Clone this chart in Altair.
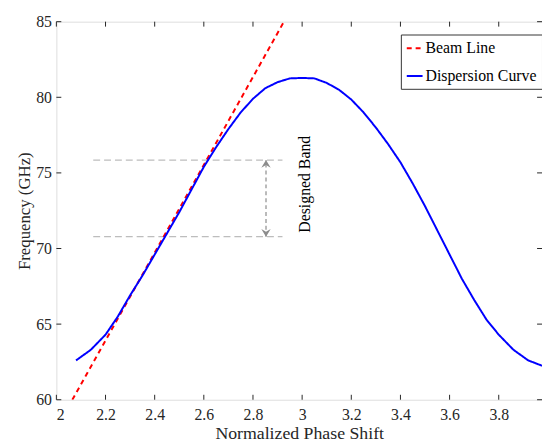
import altair as alt
import pandas as pd

# Dispersion curve
disp_x = [2.08, 2.14, 2.2, 2.25, 2.3, 2.35, 2.4, 2.45, 2.5, 2.55, 2.6, 2.65, 2.7, 2.75, 2.8, 2.85, 2.9, 2.95, 3.0,
          3.05, 3.1, 3.15, 3.2, 3.25, 3.3, 3.35, 3.4, 3.45, 3.5, 3.55, 3.6, 3.65, 3.7, 3.75, 3.8, 3.86, 3.92, 3.976]
disp_y = [62.6, 63.3, 64.3, 65.5, 66.9, 68.2, 69.6, 71.0, 72.4, 73.9, 75.4, 76.7, 77.9, 79.0, 79.9, 80.6, 81.0, 81.25, 81.28,
          81.25, 80.95, 80.5, 79.85, 79.0, 78.0, 76.9, 75.7, 74.3, 72.8, 71.2, 69.6, 68.0, 66.6, 65.3, 64.3, 63.3, 62.6, 62.25]

# Beam line
beam_x = [2.065, 2.926]
beam_y = [60.0, 85.0]

# Designed band
band_lo = 70.78
band_hi = 75.85
band_x = [2.15, 2.92]
arrow_x = 2.853
label_x = 3.012
label_y = 74.25

xticks = [2.0, 2.2, 2.4, 2.6, 2.8, 3.0, 3.2, 3.4, 3.6, 3.8]
yticks = [60, 65, 70, 75, 80, 85]

W, H = 492, 383
FONT = "Liberation Serif"
AX = "#262626"

xs = alt.Scale(domain=[2.0, 3.976], nice=False, zero=False)
ys = alt.Scale(domain=[60, 85], nice=False, zero=False)

curves = pd.DataFrame(
    {"x": beam_x + disp_x,
     "y": beam_y + disp_y,
     "s": ["Beam Line"] * len(beam_x) + ["Dispersion Curve"] * len(disp_x),
     "o": list(range(len(beam_x))) + list(range(len(disp_x)))}
)

xaxis = alt.Axis(values=xticks, format="~g", title="Normalized Phase Shift", titlePadding=2, labelPadding=7,
                 titleFontSize=18)
yaxis = alt.Axis(values=yticks, title="Frequency (GHz)", titlePadding=2, labelPadding=5, titleFontSize=17)


def X(f):
    return alt.X(f, scale=xs, axis=xaxis)


def Y(f):
    return alt.Y(f, scale=ys, axis=yaxis)


lines = alt.Chart(curves).mark_line(clip=True, strokeWidth=2).encode(
    x=X("x:Q"),
    y=Y("y:Q"),
    order="o:Q",
    color=alt.Color("s:N", scale=alt.Scale(domain=["Beam Line", "Dispersion Curve"], range=["#ff0000", "#0000ff"]),
                    legend=alt.Legend(title=None, orient="none", legendX=349, legendY=13,
                                      symbolType="stroke", symbolStrokeWidth=2, symbolSize=256,
                                      strokeColor="#333", fillColor="white", padding=5,
                                      rowPadding=11, labelOffset=2, offset=0)),
    strokeDash=alt.StrokeDash("s:N", scale=alt.Scale(domain=["Beam Line", "Dispersion Curve"], range=[[5, 4], [1, 0]]),
                              legend=None),
)

band_df = pd.DataFrame({"x1": [band_x[0], band_x[0]], "x2": [band_x[1], band_x[1]], "y": [band_lo, band_hi]})
band = alt.Chart(band_df).mark_rule(color="#bdbdbd", strokeDash=[7, 4], strokeWidth=1.2).encode(
    x=X("x1:Q"), x2="x2:Q", y=Y("y:Q"))

arr_df = pd.DataFrame({"x": [arrow_x], "y1": [band_lo], "y2": [band_hi]})
arrow_line = alt.Chart(arr_df).mark_rule(color="#8c8c8c", strokeDash=[4, 3], strokeWidth=1.2).encode(
    x=X("x:Q"), y=Y("y1:Q"), y2="y2:Q")

up = alt.Chart(pd.DataFrame({"x": [arrow_x], "y": [band_hi]})).mark_point(
    shape="M0,0 L-0.6,1 L0,0.65 L0.6,1 Z", filled=True, color="#8c8c8c", size=250, opacity=1).encode(
    x=X("x:Q"), y=Y("y:Q"))
down = alt.Chart(pd.DataFrame({"x": [arrow_x], "y": [band_lo]})).mark_point(
    shape="M0,0 L-0.6,-1 L0,-0.65 L0.6,-1 Z", filled=True, color="#8c8c8c", size=250, opacity=1).encode(
    x=X("x:Q"), y=Y("y:Q"))

label = alt.Chart(pd.DataFrame({"x": [label_x], "y": [label_y], "t": ["Designed Band"]})).mark_text(
    angle=270, font=FONT, fontSize=16, color="#000", align="center", baseline="middle").encode(
    x=X("x:Q"), y=Y("y:Q"), text="t:N")

xt = pd.DataFrame({"v": xticks})
yt = pd.DataFrame({"v": yticks})
tk = dict(color=AX, strokeWidth=1)
tick_b = alt.Chart(xt).mark_rule(**tk).encode(x=X("v:Q"), y=alt.value(H), y2=alt.value(H - 5))
tick_t = alt.Chart(xt).mark_rule(**tk).encode(x=X("v:Q"), y=alt.value(0), y2=alt.value(5))
tick_l = alt.Chart(yt).mark_rule(**tk).encode(y=Y("v:Q"), x=alt.value(0), x2=alt.value(5))
tick_r = alt.Chart(yt).mark_rule(**tk).encode(y=Y("v:Q"), x=alt.value(W), x2=alt.value(W - 5))

chart = alt.layer(band, arrow_line, up, down, label, lines, tick_b, tick_t, tick_l, tick_r).properties(
    width=W, height=H,
    autosize=alt.AutoSizeParams(type="none"),
    padding={"left": 49, "top": 11, "right": 0, "bottom": 43},
).configure_view(stroke=AX, strokeWidth=1).configure(background="white").configure_axis(
    ticks=False, domain=False, grid=False,
    labelFont=FONT, labelFontSize=16, labelColor=AX,
    titleFont=FONT, titleFontSize=17, titleFontWeight="normal", titleColor=AX,
).configure_legend(labelFont=FONT, labelFontSize=16, labelColor="#000")

chart.save("out.html", embed_options={"renderer": "svg", "actions": False})
